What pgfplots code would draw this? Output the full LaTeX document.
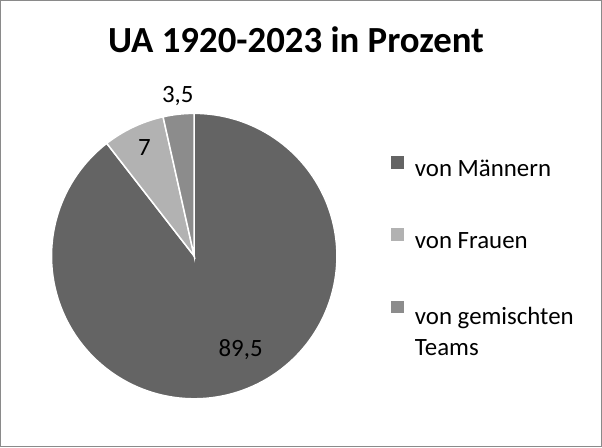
\documentclass[border=0pt]{standalone}
\usepackage{pgfplots}
\pgfplotsset{compat=1.18}
\usepackage{fontspec}
\setmainfont{Carlito}
\definecolor{cMen}{HTML}{646464}
\definecolor{cWomen}{HTML}{B2B2B2}
\definecolor{cMixed}{HTML}{8C8C8C}
\definecolor{frameGray}{HTML}{8A8A8A}
% shares in percent: men 89.5, women 7, mixed 3.5
% angles (start 90 deg, clockwise, 3.6 deg per percent)
\begin{document}
\begin{tikzpicture}
\begin{axis}[
  width=602bp, height=447bp, scale only axis,
  xmin=-194, xmax=408, ymin=-191, ymax=256,
  xtick=\empty, ytick=\empty,
  axis line style={draw=frameGray, line width=1.2bp},
  clip=false,
  legend cell align=left,
  legend image code/.code={\fill[#1, draw=none] (0bp,0bp) rectangle (13bp,13bp); \path (0bp,0bp) -- (21bp,0bp);},
  legend style={at={(axis cs:193.5,102)}, anchor=north west, draw=none, fill=none,
    font=\fontsize{25}{32}\selectfont, row sep=48bp,
    nodes={inner sep=2bp}},
]
\addplot[fill=cMen, draw=white, line width=1.5bp, data cs=polar,
  domain=90:-232.2, samples=150] (x,143) -- (axis cs:0,0) -- cycle;
\addlegendentry{von Männern}
\addplot[fill=cWomen, draw=white, line width=1.5bp, data cs=polar,
  domain=-232.2:-257.4, samples=20] (x,143) -- (axis cs:0,0) -- cycle;
\addlegendentry{von Frauen}
\addplot[fill=cMixed, draw=white, line width=1.5bp, data cs=polar,
  domain=-257.4:-270, samples=12] (x,143) -- (axis cs:0,0) -- cycle;
\addlegendentry{\begin{tabular}[t]{@{}l@{}}von gemischten\\Teams\end{tabular}}
\node[anchor=base, font=\fontsize{37}{40}\selectfont\bfseries] at (axis cs:102,204) {UA 1920-2023 in Prozent};
\node[anchor=base, font=\fontsize{25}{28}\selectfont] at (axis cs:46.5,-101) {89,5};
\node[anchor=base, font=\fontsize{25}{28}\selectfont] at (axis cs:-50,101) {7};
\node[anchor=base, font=\fontsize{25}{28}\selectfont] at (axis cs:-16.5,154) {3,5};
\end{axis}
\end{tikzpicture}
\end{document}
